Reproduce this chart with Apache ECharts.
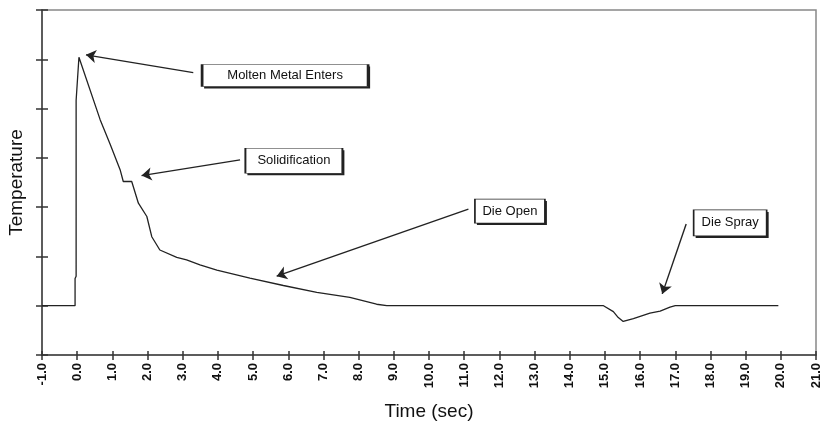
<!DOCTYPE html>
<html>
<head>
<meta charset="utf-8">
<script src="https://cdn.jsdelivr.net/npm/echarts@6/dist/echarts.min.js"></script>
<style>html,body{margin:0;padding:0;background:#fff}#c{width:824px;height:426px}</style>
</head>
<body>
<div id="c"></div>
<script>
// Time (sec) and temperature (relative units, axis unlabelled)
const timeSec = [-1.0, -0.06, -0.06, -0.03, -0.03, 0.05, 0.65, 0.94, 1.22, 1.31, 1.55, 1.74, 1.98, 2.12, 2.35, 2.83, 3.11, 3.49, 3.97, 4.91, 5.86, 6.81, 7.75, 8.51, 8.8, 14.96, 15.24, 15.38, 15.52, 15.81, 16.28, 16.57, 16.85, 17.0, 19.93];
const temperature = [1.0, 1.0, 1.55, 1.6, 5.17, 6.04, 4.78, 4.27, 3.76, 3.52, 3.52, 3.08, 2.81, 2.40, 2.13, 1.98, 1.93, 1.83, 1.72, 1.56, 1.41, 1.27, 1.17, 1.03, 1.0, 1.0, 0.88, 0.76, 0.68, 0.74, 0.85, 0.89, 0.97, 1.0, 1.0];
const xTicks = {min: -1, max: 21, interval: 1};
const yTicks = {min: 0, max: 7, interval: 1};

// Annotations (data coordinates)
const noteLabels = ['Molten Metal Enters', 'Solidification', 'Die Open', 'Die Spray'];
const noteBoxAt = [[5.91, 5.67], [6.16, 3.94], [12.30, 2.92], [18.56, 2.68]];
const arrowFrom = [[3.30, 5.73], [4.63, 3.96], [11.12, 2.96], [17.31, 2.66]];
const arrowTo = [[0.25, 6.09], [1.83, 3.64], [5.67, 1.60], [16.63, 1.24]];
const noteBoxSize = [[166, 22], [97, 25], [70, 24], [73, 26]];

const FONT = 'Liberation Sans, Arial, sans-serif';
const seriesData = timeSec.map((t, i) => [t, temperature[i]]);

const boxItems = [];
noteLabels.forEach((n, i) => {
  boxItems.push({
    name: '', coord: noteBoxAt[i], symbol: 'rect', symbolSize: noteBoxSize[i], symbolOffset: [2, 2],
    itemStyle: {color: '#222', borderWidth: 0}, label: {show: false}
  });
});
noteLabels.forEach((n, i) => {
  boxItems.push({
    name: n, coord: noteBoxAt[i], symbol: 'rect', symbolSize: noteBoxSize[i],
    itemStyle: {color: '#fff', borderColor: '#222', borderWidth: 1}
  });
});

const chart = echarts.init(document.getElementById('c'), null, {renderer: 'canvas'});
chart.setOption({
  animation: false,
  backgroundColor: '#fff',
  grid: {left: 42, right: 8, top: 10, bottom: 71, show: true, borderColor: '#888', borderWidth: 1.5,
    backgroundColor: 'transparent', containLabel: false, outerBoundsMode: 'none'},
  xAxis: [{
    type: 'value', min: xTicks.min, max: xTicks.max, interval: xTicks.interval,
    name: 'Time (sec)', nameLocation: 'middle', nameGap: 47,
    nameTextStyle: {fontFamily: FONT, fontSize: 19, color: '#111'},
    axisLine: {show: true, onZero: false, lineStyle: {color: '#444', width: 1.5}},
    axisTick: {show: true, inside: false, length: 5, lineStyle: {color: '#333', width: 1.5}},
    axisLabel: {rotate: 90, margin: 8, fontFamily: FONT, fontSize: 13, fontWeight: 'bold', color: '#111',
      formatter: v => v.toFixed(1)},
    splitLine: {show: false}
  }, {
    type: 'value', min: xTicks.min, max: xTicks.max, interval: xTicks.interval, position: 'bottom',
    axisLine: {show: false, onZero: false}, axisLabel: {show: false}, splitLine: {show: false},
    axisTick: {show: true, inside: true, length: 4, lineStyle: {color: '#333', width: 1.5}}
  }],
  yAxis: [{
    type: 'value', min: yTicks.min, max: yTicks.max, interval: yTicks.interval,
    name: 'Temperature', nameLocation: 'middle', nameGap: 16,
    nameTextStyle: {fontFamily: FONT, fontSize: 19, color: '#111'},
    axisLine: {show: true, onZero: false, lineStyle: {color: '#444', width: 1.5}},
    axisTick: {show: true, inside: false, length: 6, lineStyle: {color: '#333', width: 1.5}},
    axisLabel: {show: false}, splitLine: {show: false}
  }, {
    type: 'value', min: yTicks.min, max: yTicks.max, interval: yTicks.interval, position: 'left',
    axisLine: {show: false, onZero: false}, axisLabel: {show: false}, splitLine: {show: false},
    axisTick: {show: true, inside: true, length: 6, lineStyle: {color: '#333', width: 1.5}}
  }],
  series: [{
    type: 'line', xAxisIndex: 0, yAxisIndex: 0,
    data: seriesData, showSymbol: false, symbol: 'none', smooth: false,
    lineStyle: {color: '#222', width: 1.3},
    markLine: {
      silent: true, symbol: ['none', 'arrow'], symbolSize: 10,
      label: {show: false},
      lineStyle: {color: '#222', width: 1.4, type: 'solid'},
      data: arrowFrom.map((f, i) => [{coord: f}, {coord: arrowTo[i]}])
    },
    markPoint: {
      silent: true,
      data: boxItems,
      label: {show: true, position: 'inside', formatter: '{b}', fontFamily: FONT, fontSize: 13, color: '#111'}
    }
  }]
});
</script>
</body>
</html>
